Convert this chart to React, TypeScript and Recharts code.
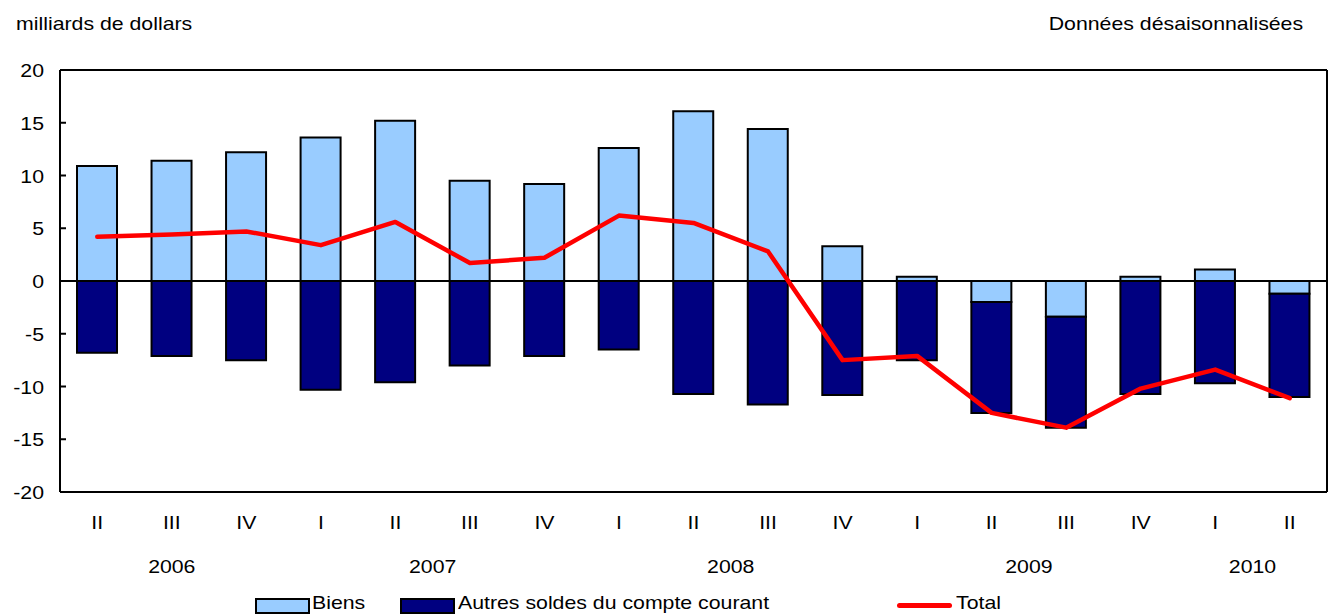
import React from "react";
import {
  ComposedChart,
  Bar,
  Line,
  XAxis,
  YAxis,
  CartesianGrid,
  ReferenceLine,
  Legend,
} from "recharts";

const quarters = ["II", "III", "IV", "I", "II", "III", "IV", "I", "II", "III", "IV", "I", "II", "III", "IV", "I", "II"];
const years = ["2006", "2006", "2006", "2007", "2007", "2007", "2007", "2008", "2008", "2008", "2008", "2009", "2009", "2009", "2009", "2010", "2010"];
const biens = [10.9, 11.4, 12.2, 13.6, 15.2, 9.5, 9.2, 12.6, 16.1, 14.4, 3.3, 0.4, -2.0, -3.4, 0.4, 1.1, -1.2];
const autres = [-6.8, -7.1, -7.5, -10.3, -9.6, -8.0, -7.1, -6.5, -10.7, -11.7, -10.8, -7.5, -10.5, -10.5, -10.7, -9.7, -9.8];
const total = [4.2, 4.4, 4.7, 3.4, 5.6, 1.7, 2.2, 6.2, 5.5, 2.8, -7.5, -7.1, -12.5, -13.9, -10.2, -8.4, -11.1];
const yTicks = [-20, -15, -10, -5, 0, 5, 10, 15, 20];

const FONT = "'Liberation Sans', Arial, Helvetica, sans-serif";
const STRETCH = 1.12;

// each quarter sits in the middle of its slot on a 0..n axis
const data = quarters.map((q, i) => ({
  pos: i + 0.5,
  quarter: q,
  year: years[i],
  biens: biens[i],
  autres: autres[i],
  total: total[i],
}));

// centre of each year group, in slot units
const yearGroups: { label: string; mid: number }[] = [];
years.forEach((y, i) => {
  if (i === 0 || years[i - 1] !== y) {
    let end = i;
    while (end + 1 < years.length && years[end + 1] === y) end++;
    yearGroups.push({ label: y, mid: (i + end + 1) / 2 });
  }
});

const xTicks = Array.from(
  new Set([...data.map((d) => d.pos), ...yearGroups.map((g) => g.mid)])
).sort((a, b) => a - b);

const StretchText = ({ x, y, anchor, children }: any) => (
  <g transform={`translate(${x},${y}) scale(${STRETCH},1)`}>
    <text x={0} y={0} textAnchor={anchor} fontFamily={FONT} fontSize={19} fill="#000">
      {children}
    </text>
  </g>
);

const YTick = ({ x, y, payload }: any) => (
  <g>
    <line x1={x} x2={x + 6} y1={y} y2={y} stroke="#000" strokeWidth={2} />
    <StretchText x={x - 16} y={y + 7} anchor="end">
      {payload.value}
    </StretchText>
  </g>
);

const XTick = ({ x, y, payload }: any) => {
  const row = data.find((d) => d.pos === payload.value);
  const grp = yearGroups.find((g) => g.mid === payload.value);
  return (
    <g>
      {row && (
        <StretchText x={x} y={y + 37} anchor="middle">
          {row.quarter}
        </StretchText>
      )}
      {grp && (
        <StretchText x={x} y={y + 81} anchor="middle">
          {grp.label}
        </StretchText>
      )}
    </g>
  );
};

const legendText: React.CSSProperties = {
  position: "absolute",
  top: -2,
  fontFamily: FONT,
  fontSize: 19,
  color: "#000",
  transform: `scaleX(${STRETCH})`,
  transformOrigin: "left center",
  whiteSpace: "nowrap",
};

const renderLegend = () => (
  <div style={{ position: "relative", height: 24, width: 1329 }}>
    <div style={{ position: "absolute", left: 255, top: 4, width: 51, height: 12, background: "#99CCFF", border: "2px solid #000" }} />
    <div style={{ ...legendText, left: 312 }}>Biens</div>
    <div style={{ position: "absolute", left: 400, top: 4, width: 51, height: 12, background: "#000080", border: "2px solid #000" }} />
    <div style={{ ...legendText, left: 458 }}>Autres soldes du compte courant</div>
    <div style={{ position: "absolute", left: 897, top: 9, width: 55, height: 5, background: "#FF0000", borderRadius: 3 }} />
    <div style={{ ...legendText, left: 956 }}>Total</div>
  </div>
);

export default function App() {
  return (
    <div style={{ position: "absolute", left: 0, top: 0, width: 1329, height: 614, background: "#fff" }}>
      <div
        style={{
          position: "absolute",
          left: 16,
          top: 13,
          fontFamily: FONT,
          fontSize: 19,
          transform: `scaleX(${STRETCH})`,
          transformOrigin: "left center",
          whiteSpace: "nowrap",
        }}
      >
        milliards de dollars
      </div>
      <div
        style={{
          position: "absolute",
          right: 26,
          top: 13,
          fontFamily: FONT,
          fontSize: 19,
          transform: `scaleX(${STRETCH})`,
          transformOrigin: "right center",
          whiteSpace: "nowrap",
        }}
      >
        Données désaisonnalisées
      </div>
      <ComposedChart
        width={1329}
        height={614}
        data={data}
        stackOffset="sign"
        margin={{ top: 70, right: 2, bottom: 32, left: 0 }}
      >
        <CartesianGrid
          stroke="#000"
          strokeWidth={2}
          horizontalCoordinatesGenerator={({ offset }: any) => [offset.top, offset.top + offset.height]}
          verticalCoordinatesGenerator={({ offset }: any) => [offset.left, offset.left + offset.width]}
        />
        <XAxis
          dataKey="pos"
          type="number"
          domain={[0, quarters.length]}
          allowDataOverflow
          ticks={xTicks}
          interval={0}
          tick={<XTick />}
          tickLine={false}
          tickSize={0}
          tickMargin={0}
          height={90}
          axisLine={{ stroke: "#000", strokeWidth: 2 }}
        />
        <YAxis
          domain={[-20, 20]}
          ticks={yTicks}
          width={60}
          tick={<YTick />}
          tickLine={false}
          tickSize={0}
          tickMargin={0}
          axisLine={{ stroke: "#000", strokeWidth: 2 }}
        />
        <Bar dataKey="biens" name="Biens" stackId="a" fill="#99CCFF" stroke="#000" strokeWidth={2} barSize={40} isAnimationActive={false} />
        <Bar dataKey="autres" name="Autres soldes du compte courant" stackId="a" fill="#000080" stroke="#000" strokeWidth={2} barSize={40} isAnimationActive={false} />
        <ReferenceLine y={0} stroke="#000" strokeWidth={2} />
        <Line
          dataKey="total"
          name="Total"
          type="linear"
          stroke="#FF0000"
          strokeWidth={4.5}
          strokeLinejoin="round"
          strokeLinecap="round"
          dot={false}
          activeDot={false}
          isAnimationActive={false}
        />
        <Legend
          layout="horizontal"
          verticalAlign="middle"
          align="center"
          content={renderLegend}
          wrapperStyle={{ position: "absolute", top: 594, left: 0, width: 1329 }}
        />
      </ComposedChart>
    </div>
  );
}
